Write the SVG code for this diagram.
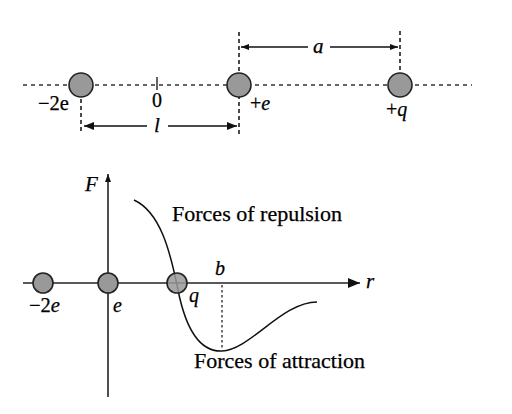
<svg xmlns="http://www.w3.org/2000/svg" width="512" height="414" viewBox="0 0 512 414">
<style>
.dot{stroke:#333;stroke-width:1.5;stroke-dasharray:4 4;fill:none}
.vd{stroke:#111;stroke-width:1.5;stroke-dasharray:4 3;fill:none}
.ln{stroke:#111;stroke-width:1.3;fill:none}
.ax{stroke:#222;stroke-width:1.6;fill:none}
.ball{fill:#999;stroke:#222;stroke-width:1.6}
text{font-family:"Liberation Serif","Times New Roman",serif;fill:#000;stroke:#000;stroke-width:0.25}
.it{font-style:italic}
</style>
<defs>
<marker id="ah" viewBox="0 0 10 8" refX="10" refY="4" markerWidth="10" markerHeight="8" markerUnits="userSpaceOnUse" orient="auto-start-reverse"><path d="M0,0L10,4L0,8Z" fill="#111"/></marker>
<marker id="as" viewBox="0 0 8 6" refX="8" refY="3" markerWidth="8" markerHeight="6" markerUnits="userSpaceOnUse" orient="auto-start-reverse"><path d="M0,0L8,3L0,6Z" fill="#111"/></marker>
<marker id="ar" viewBox="0 0 12 10" refX="12" refY="5" markerWidth="12" markerHeight="10" markerUnits="userSpaceOnUse" orient="auto"><path d="M0,0L12,5L0,10Z" fill="#111"/></marker>
</defs>
<g id="connectors">
<line class="dot" x1="23" y1="85" x2="472" y2="85"/>
<line class="ln" x1="157" y1="77" x2="157" y2="90"/>
<line class="vd" x1="81" y1="92" x2="81" y2="134"/>
<line class="vd" x1="239" y1="32" x2="239" y2="134"/>
<line class="vd" x1="400" y1="31" x2="400" y2="75"/>
<line class="ln" x1="84" y1="126" x2="147" y2="126" marker-start="url(#ah)"/>
<line class="ln" x1="168" y1="126" x2="237" y2="126" marker-end="url(#ah)"/>
<line class="ln" x1="241" y1="47" x2="308" y2="47" marker-start="url(#as)"/>
<line class="ln" x1="330" y1="47" x2="398" y2="47" marker-end="url(#as)"/>
<line class="ax" x1="108" y1="397" x2="108" y2="174" marker-end="url(#as)"/>
<line class="ax" x1="23" y1="283" x2="360" y2="283" marker-end="url(#ar)"/>
<line class="vd" x1="222" y1="285" x2="222" y2="350" style="stroke-width:1.2;stroke-dasharray:2.5 2.5"/>
</g>
<g id="q1"><circle class="ball" cx="81" cy="85" r="12"/><text x="38" y="110" font-size="20.5">−2e</text></g>
<g id="origin"><text x="152" y="107" font-size="20">0</text></g>
<g id="e1"><circle class="ball" cx="239" cy="85" r="12"/><text x="250" y="110" font-size="20">+<tspan class="it">e</tspan></text></g>
<g id="q3"><circle class="ball" cx="400" cy="85" r="12"/><text x="386" y="116" font-size="20">+<tspan class="it">q</tspan></text></g>
<g id="lab-l"><text class="it" x="154" y="132" font-size="21">l</text></g>
<g id="lab-a"><text class="it" x="313" y="53" font-size="21">a</text></g>
<g id="graph">
<path class="ln" style="stroke-width:1.5" d="M134,200 C160,212 170,250 178,290 C186,330 200,352 222,351 C250,350 282,302 317,302"/>
<circle class="ball" cx="43" cy="283" r="10"/>
<circle class="ball" cx="108" cy="283" r="10"/>
<circle class="ball" cx="177" cy="283" r="10" style="fill-opacity:0.85"/>
<text class="it" x="85" y="191" font-size="21">F</text>
<text class="it" x="366" y="288" font-size="21">r</text>
<text x="29" y="312" font-size="20.5">−2<tspan class="it">e</tspan></text>
<text class="it" x="113" y="312" font-size="20">e</text>
<text class="it" x="189" y="302" font-size="20">q</text>
<text class="it" x="215" y="275" font-size="20">b</text>
<text x="172" y="221" font-size="21" textLength="170" lengthAdjust="spacingAndGlyphs">Forces of repulsion</text>
<text x="194" y="368" font-size="21" textLength="171" lengthAdjust="spacingAndGlyphs">Forces of attraction</text>
</g>
</svg>
